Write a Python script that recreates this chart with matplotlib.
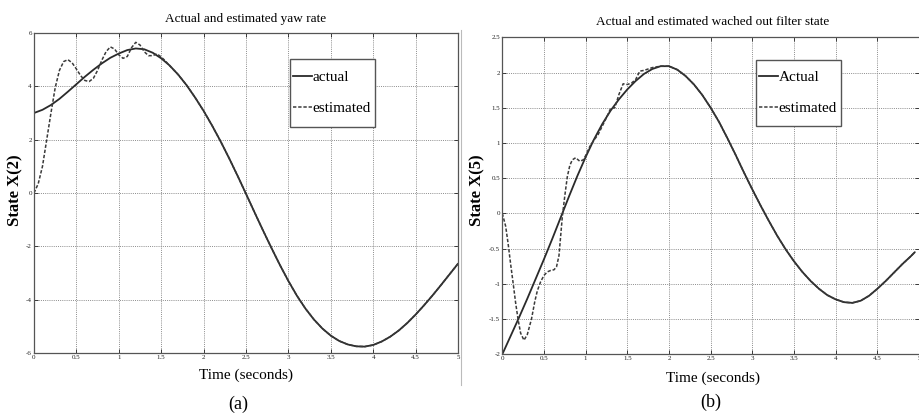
import matplotlib
matplotlib.use("Agg")
import matplotlib.pyplot as plt
from matplotlib.lines import Line2D
from matplotlib.patches import Rectangle

# ---------------- data ----------------
# panel (a): yaw rate
t_a_actual = [0.0, 0.1, 0.2, 0.3, 0.4, 0.5, 0.6, 0.7, 0.8, 0.9, 1.0, 1.1, 1.2, 1.3, 1.4,
              1.5, 1.6, 1.7, 1.8, 1.9, 2.0, 2.1, 2.2, 2.3, 2.4, 2.5, 2.6, 2.7, 2.8, 2.9,
              3.0, 3.1, 3.2, 3.3, 3.4, 3.5, 3.6, 3.7, 3.8, 3.9, 4.0, 4.1, 4.2, 4.3, 4.4,
              4.5, 4.6, 4.7, 4.8, 4.9, 5.0]
yaw_actual = [3.00, 3.12, 3.30, 3.53, 3.80, 4.08, 4.36, 4.62, 4.86, 5.07, 5.23, 5.36, 5.42,
              5.39, 5.26, 5.05, 4.78, 4.44, 4.04, 3.58, 3.08, 2.53, 1.94, 1.31, 0.65, -0.03,
              -0.72, -1.40, -2.06, -2.70, -3.30, -3.85, -4.33, -4.74, -5.08, -5.35, -5.55,
              -5.68, -5.75, -5.76, -5.70, -5.57, -5.39, -5.16, -4.88, -4.56, -4.21, -3.84,
              -3.45, -3.05, -2.65]

t_a_est = [0.0, 0.05, 0.1, 0.15, 0.2, 0.25, 0.3, 0.35, 0.4, 0.45, 0.5, 0.55, 0.6, 0.65,
           0.7, 0.75, 0.8, 0.85, 0.9, 0.95, 1.0, 1.05, 1.1, 1.15, 1.2, 1.25, 1.3, 1.35,
           1.4, 1.45, 1.5, 1.55, 1.6, 1.7, 1.8, 1.9, 2.0, 2.1, 2.2, 2.3, 2.4, 2.5, 2.6,
           2.7, 2.8, 2.9, 3.0, 3.1, 3.2, 3.3, 3.4, 3.5, 3.6, 3.7, 3.8, 3.9, 4.0, 4.1,
           4.2, 4.3, 4.4, 4.5, 4.6, 4.7, 4.8, 4.9, 5.0]
yaw_est = [0.00, 0.35, 1.00, 2.00, 3.00, 3.95, 4.60, 4.93, 5.00, 4.88, 4.65, 4.40, 4.22,
           4.18, 4.30, 4.60, 4.98, 5.30, 5.48, 5.40, 5.18, 5.05, 5.12, 5.45, 5.65, 5.55,
           5.30, 5.15, 5.15, 5.22, 5.10, 4.95, 4.77, 4.44, 4.04, 3.58, 3.08, 2.53, 1.94,
           1.31, 0.65, -0.03, -0.72, -1.40, -2.06, -2.70, -3.30, -3.85, -4.33, -4.74,
           -5.08, -5.35, -5.55, -5.68, -5.75, -5.76, -5.70, -5.57, -5.39, -5.16, -4.88,
           -4.56, -4.21, -3.84, -3.45, -3.05, -2.65]

# panel (b): washed out filter state
t_b_actual = [0.0, 0.1, 0.2, 0.3, 0.4, 0.5, 0.6, 0.7, 0.8, 0.9, 1.0, 1.1, 1.2, 1.3, 1.4,
              1.5, 1.6, 1.7, 1.8, 1.9, 2.0, 2.1, 2.2, 2.3, 2.4, 2.5, 2.6, 2.7, 2.8, 2.9,
              3.0, 3.1, 3.2, 3.3, 3.4, 3.5, 3.6, 3.7, 3.8, 3.9, 4.0, 4.1, 4.2, 4.3, 4.4,
              4.5, 4.6, 4.7, 4.8, 4.9, 4.95]
wof_actual = [-2.00, -1.74, -1.48, -1.21, -0.93, -0.65, -0.36, -0.06, 0.24, 0.53, 0.80,
              1.05, 1.27, 1.46, 1.62, 1.76, 1.88, 1.98, 2.05, 2.09, 2.09, 2.04, 1.95, 1.83,
              1.68, 1.50, 1.30, 1.07, 0.83, 0.58, 0.34, 0.11, -0.11, -0.32, -0.51, -0.68,
              -0.83, -0.96, -1.07, -1.16, -1.22, -1.26, -1.27, -1.24, -1.17, -1.07, -0.96,
              -0.84, -0.72, -0.61, -0.55]

t_b_est = [0.0, 0.04, 0.07, 0.1, 0.13, 0.16, 0.19, 0.22, 0.26, 0.3, 0.35, 0.39, 0.42,
           0.46, 0.5, 0.54, 0.58, 0.62, 0.65, 0.68, 0.72, 0.75, 0.78, 0.81, 0.84, 0.88,
           0.93, 0.97, 1.0, 1.05, 1.1, 1.15, 1.2, 1.25, 1.3, 1.35, 1.4, 1.45, 1.5, 1.55,
           1.6, 1.65, 1.7, 1.75, 1.8, 1.85, 1.9, 1.95, 2.0, 2.1, 2.2, 2.3, 2.4, 2.5, 2.6,
           2.7, 2.8, 2.9, 3.0, 3.1, 3.2, 3.3, 3.4, 3.5, 3.6, 3.7, 3.8, 3.9, 4.0, 4.1, 4.2,
           4.3, 4.4, 4.5, 4.6, 4.7, 4.8, 4.9, 4.95]
wof_est = [0.00, -0.18, -0.43, -0.72, -0.99, -1.27, -1.51, -1.70, -1.80, -1.72, -1.50,
           -1.25, -1.10, -0.97, -0.88, -0.83, -0.81, -0.80, -0.76, -0.60, -0.05, 0.25, 0.52,
           0.68, 0.76, 0.79, 0.74, 0.76, 0.82, 0.95, 1.04, 1.12, 1.24, 1.36, 1.49, 1.50,
           1.69, 1.84, 1.83, 1.85, 1.90, 2.02, 2.03, 2.05, 2.07, 2.08, 2.09, 2.09, 2.09,
           2.04, 1.95, 1.83, 1.68, 1.50, 1.30, 1.07, 0.83, 0.58, 0.34, 0.11, -0.11, -0.32,
           -0.51, -0.68, -0.83, -0.96, -1.07, -1.16, -1.22, -1.26, -1.27, -1.24, -1.17,
           -1.07, -0.96, -0.84, -0.72, -0.61, -0.55]

x_ticks = [0, 0.5, 1, 1.5, 2, 2.5, 3, 3.5, 4, 4.5, 5]
x_ticklabels = ["0", "0.5", "1", "1.5", "2", "2.5", "3", "3.5", "4", "4.5", "5"]
ya_ticks = [-6, -4, -2, 0, 2, 4, 6]
ya_ticklabels = ["-6", "-4", "-2", "0", "2", "4", "6"]
yb_ticks = [-2, -1.5, -1, -0.5, 0, 0.5, 1, 1.5, 2, 2.5]
yb_ticklabels = ["-2", "-1.5", "-1", "-0.5", "0", "0.5", "1", "1.5", "2", "2.5"]

titles = ["Actual and estimated yaw rate", "Actual and estimated wached out filter state"]
ylabels = ["State X(2)", "State X(5)"]
xlabel = "Time (seconds)"
legend_a = ["actual", "estimated"]
legend_b = ["Actual", "estimated"]
panel_tags = ["(a)", "(b)"]

# ---------------- style ----------------
W, H = 919, 417
SERIF = ["Liberation Serif", "DejaVu Serif"]
LINE_C = "#2a2a2a"
GRID_C = "#8c8c8c"
DASH = (0, (2.2, 1.2))

fig = plt.figure(figsize=(W / 100, H / 100), dpi=100)
fig.patch.set_facecolor("white")


def fx(px):
    return px / W


def fy(py):
    return 1 - py / H


ax_a = fig.add_axes([fx(34), fy(353), fx(458 - 34), (353 - 33) / H])
ax_b = fig.add_axes([fx(502.3), fy(354.3), fx(919 - 502.3), (354.3 - 37.3) / H])


def style_axes(ax, yt, ytl, ylim, xlim):
    ax.set_xlim(*xlim)
    ax.set_ylim(*ylim)
    ax.set_xticks(x_ticks)
    ax.set_xticklabels(x_ticklabels)
    ax.set_yticks(yt)
    ax.set_yticklabels(ytl)
    ax.tick_params(direction="in", length=3, width=0.6, labelsize=5, pad=1.5,
                   colors="#222222", top=True, right=True)
    for lab in ax.get_xticklabels() + ax.get_yticklabels():
        lab.set_family(SERIF)
    ax.grid(True, linestyle=(0, (1, 1.2)), color=GRID_C, linewidth=0.7)
    for s in ax.spines.values():
        s.set_color("#555555")
        s.set_linewidth(0.9)


style_axes(ax_a, ya_ticks, ya_ticklabels, (-6, 6), (0, 5))
style_axes(ax_b, yb_ticks, yb_ticklabels, (-2, 2.5), (0, (919 - 502.3) / 84.6))
ax_b.spines["right"].set_visible(False)

ax_a.plot(t_a_actual, yaw_actual, color=LINE_C, linewidth=1.3, solid_capstyle="round")
ax_a.plot(t_a_est, yaw_est, color="#3a3a3a", linewidth=1.1, linestyle=DASH)
ax_b.plot(t_b_actual, wof_actual, color=LINE_C, linewidth=1.3, solid_capstyle="round")
ax_b.plot(t_b_est, wof_est, color="#3a3a3a", linewidth=1.1, linestyle=DASH)

handles = [Line2D([], [], color=LINE_C, linewidth=1.3),
           Line2D([], [], color="#3a3a3a", linewidth=1.1, linestyle=DASH)]

# legends: frame drawn as a rectangle, entries placed inside it
for labels, box in [(legend_a, (290, 59, 375, 127)), (legend_b, (756, 60, 841, 126))]:
    x0, y0, x1, y1 = box
    fig.add_artist(Rectangle((fx(x0), fy(y1)), fx(x1 - x0), (y1 - y0) / H,
                             transform=fig.transFigure, facecolor="white",
                             edgecolor="#555555", linewidth=1.0, zorder=5))
    leg = fig.legend(handles, labels, loc="center left",
                     bbox_to_anchor=(fx(x0 + 1), fy((y0 + y1) / 2)),
                     bbox_transform=fig.transFigure,
                     prop={"family": SERIF, "size": 11}, handlelength=1.25,
                     handletextpad=0.05, labelspacing=1.15, borderpad=0.1,
                     frameon=False, borderaxespad=0)
    leg.set_zorder(6)

# titles
fig.text(fx(246), fy(19), titles[0], ha="center", va="center",
         family=SERIF, fontsize=9.5)
fig.text(fx(713), fy(22), titles[1], ha="center", va="center",
         family=SERIF, fontsize=9.5)
# y labels
fig.text(fx(15), fy(190), ylabels[0], ha="center", va="center", rotation=90,
         family=SERIF, fontsize=12, fontweight="bold")
fig.text(fx(477), fy(190), ylabels[1], ha="center", va="center", rotation=90,
         family=SERIF, fontsize=12, fontweight="bold")
# x labels
fig.text(fx(246), fy(375), xlabel, ha="center", va="center",
         family=SERIF, fontsize=11)
fig.text(fx(713), fy(378), xlabel, ha="center", va="center",
         family=SERIF, fontsize=11)
# panel tags
fig.text(fx(238), fy(404), panel_tags[0], ha="center", va="center",
         family=SERIF, fontsize=13)
fig.text(fx(711), fy(402), panel_tags[1], ha="center", va="center",
         family=SERIF, fontsize=13)

# thin frame edge between the two panels
fig.add_artist(Line2D([fx(461), fx(461)], [fy(30), fy(385)], transform=fig.transFigure,
                      color="#bbbbbb", linewidth=0.8))

fig.savefig("out.png", dpi=100, facecolor="white")
